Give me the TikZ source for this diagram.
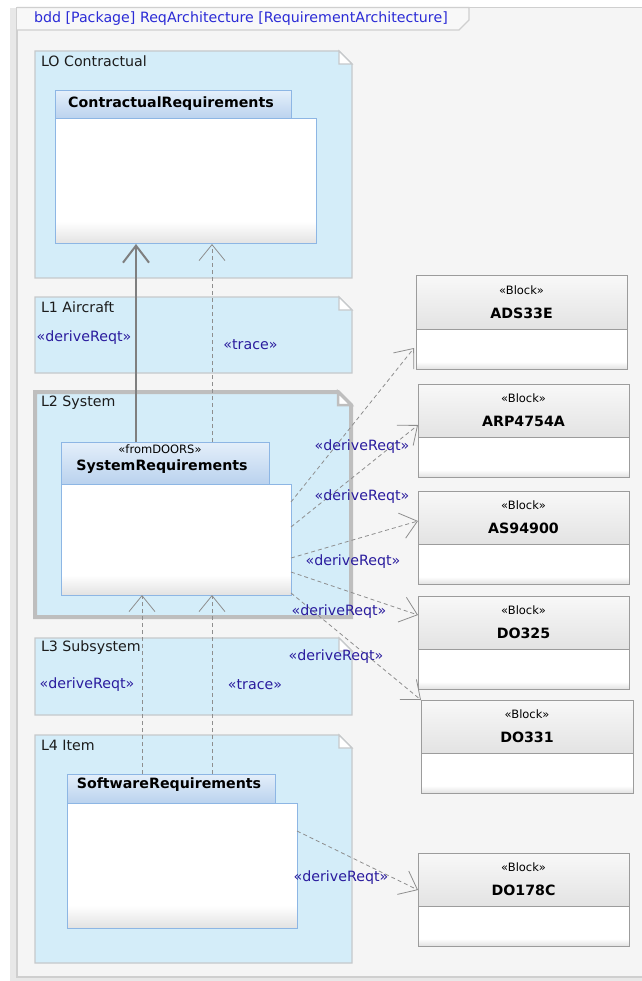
\documentclass[tikz,border=0pt]{standalone}
\usepackage{fontspec}
\setmainfont{DejaVu Sans}
\usetikzlibrary{arrows.meta,calc}

\definecolor{outerbg}{HTML}{FFFFFF}
\definecolor{shadowgray}{HTML}{E8E8E8}
\definecolor{framebg}{HTML}{F5F5F5}
\definecolor{tabbg}{HTML}{F8F8F8}
\definecolor{framecol}{HTML}{CFCFCF}
\definecolor{pkgfill}{HTML}{D4EDF9}
\definecolor{pkgline}{HTML}{C6C9CB}
\definecolor{sysline}{HTML}{BEBEBE}
\definecolor{clsline}{HTML}{8DB6E4}
\definecolor{clstop}{HTML}{E4EFFA}
\definecolor{clsbot}{HTML}{BAD2EE}
\definecolor{bodylow}{HTML}{E2E2E2}
\definecolor{blkline}{HTML}{9C9C9C}
\definecolor{blktop}{HTML}{F8F8F8}
\definecolor{blkbot}{HTML}{E3E3E3}
\definecolor{linkgray}{HTML}{8E8E8E}
\definecolor{solidgray}{HTML}{7F7F7F}
\definecolor{labelblue}{HTML}{2A1C9E}
\definecolor{titleblue}{HTML}{2B2BD6}
\definecolor{inktext}{HTML}{1C1C1C}

% white body fading to light gray along its lower edge
\pgfdeclareverticalshading{bodyshade}{100bp}{color(0bp)=(bodylow); color(25bp)=(bodylow); color(34bp)=(white); color(100bp)=(white)}

\tikzset{
  txt/.style={inner sep=0pt, outer sep=0pt, text=inktext, font=\fontsize{14.2}{17}\selectfont},
  pkgname/.style={txt, anchor=west},
  boldname/.style={txt, font=\fontsize{14.2}{17}\selectfont\bfseries, text=black},
  stereo/.style={txt, font=\fontsize{11.5}{13}\selectfont, text=black},
  linklabel/.style={txt, text=labelblue},
  pkgbox/.style={draw=pkgline, fill=pkgfill, line width=1.2pt, line join=miter},
  sysbox/.style={draw=sysline, fill=pkgfill, line width=4pt, line join=miter},
  fold/.style={draw=pkgline, fill=white, line width=1.2pt},
  sysfold/.style={draw=sysline, fill=white, line width=2.5pt},
  clshead/.style={draw=clsline, line width=1pt, top color=clstop, bottom color=clsbot,
    inner sep=0pt, outer sep=0pt, anchor=north west},
  clsbody/.style={draw=clsline, line width=1pt, shading=bodyshade,
    inner sep=0pt, outer sep=0pt, anchor=north west},
  blkhead/.style={draw=blkline, line width=1pt, top color=blktop, bottom color=blkbot,
    inner sep=0pt, outer sep=0pt, anchor=north west, minimum height=53pt},
  blkbody/.style={draw=blkline, line width=1pt, shading=bodyshade,
    inner sep=0pt, outer sep=0pt, anchor=north west, minimum height=40pt},
  deplink/.style={draw=linkgray, line width=0.8pt, dash pattern=on 4pt off 3pt,
    -{Straight Barb[length=16pt, width=26pt, line width=0.8pt]}},
  solidlink/.style={draw=solidgray, line width=2pt,
    -{Straight Barb[length=17pt, width=26pt, line width=2pt]}},
}

% a SysML block: header with stereotype and name, plus an empty compartment
\newcommand\sysblock[5]{%
  \node[blkhead, minimum width=#4] (#1H) at (#2,#3) {};
  \node[blkbody, minimum width=#4] (#1B) at (#1H.south west) {};
  \node[stereo] (#1S) at ($(#1H.north)+(0,14)$) {«Block»};
  \node[boldname] (#1N) at ($(#1H.north)+(0,37)$) {#5};
}

\begin{document}
\begin{tikzpicture}[x=1pt, y=-1pt]
\useasboundingbox (0,0) rectangle (641,981);
\fill[outerbg] (0,0) rectangle (641,981);

% diagram frame with its name tab
\fill[shadowgray] (10,8) rectangle (645,981);
\draw[framecol, fill=framebg, line width=1.2pt] (17,7.5) rectangle (648,977);
\draw[framecol, fill=tabbg, line width=1.2pt] (17,7.5) -- (469,7.5) -- (469,20) -- (459,30) -- (17,30);
\node[txt, anchor=west, text=titleblue] (title) at (34,18.5) {bdd [Package] ReqArchitecture [RequirementArchitecture]};

% packages (one per requirement level)
\draw[pkgbox] (35,51) -- (339,51) -- (352,64) -- (352,278) -- (35,278) -- cycle;
\draw[fold] (339,51) -- (339,64) -- (352,64) -- cycle;
\node[pkgname] (l0) at (41,61) {LO Contractual};

\draw[pkgbox] (35,297) -- (339,297) -- (352,310) -- (352,373) -- (35,373) -- cycle;
\draw[fold] (339,297) -- (339,310) -- (352,310) -- cycle;
\node[pkgname] (l1) at (41,307) {L1 Aircraft};

\draw[sysbox] (35,392) -- (338,392) -- (351,405) -- (351,617) -- (35,617) -- cycle;
\draw[sysfold] (338,392) -- (338,405) -- (351,405) -- cycle;
\node[pkgname] (l2) at (41,403) {L2 System};

\draw[pkgbox] (35,638) -- (339,638) -- (352,651) -- (352,715) -- (35,715) -- cycle;
\draw[fold] (339,638) -- (339,651) -- (352,651) -- cycle;
\node[pkgname] (l3) at (41,648) {L3 Subsystem};

\draw[pkgbox] (35,735) -- (339,735) -- (352,748) -- (352,963) -- (35,963) -- cycle;
\draw[fold] (339,735) -- (339,748) -- (352,748) -- cycle;
\node[pkgname] (l4) at (41,745) {L4 Item};

% requirement packages
\node[clshead, minimum width=236pt, minimum height=28pt] (crH) at (55,91) {};
\node[clsbody, minimum width=261pt, minimum height=125pt] (crB) at (55,119) {};
\node[boldname] (crN) at ($(crH.center)+(-2,-1)$) {ContractualRequirements};

\node[clshead, minimum width=208pt, minimum height=42pt] (srH) at (61,442) {};
\node[clsbody, minimum width=230pt, minimum height=111pt] (srB) at (61,484) {};
\node[stereo] (srS) at (160,449) {«fromDOORS»};
\node[boldname] (srN) at (162,467) {SystemRequirements};

\node[clshead, minimum width=208pt, minimum height=29pt] (swH) at (67,774) {};
\node[clsbody, minimum width=230pt, minimum height=125pt] (swB) at (67,803) {};
\node[boldname] (swN) at (169,785) {SoftwareRequirements};

% standards as blocks
\sysblock{ads}{416}{276}{211pt}{ADS33E}
\sysblock{arp}{418}{384}{211pt}{ARP4754A}
\sysblock{as}{418}{491}{211pt}{AS94900}
\sysblock{dts}{418}{596}{211pt}{DO325}
\sysblock{dto}{421}{700}{212pt}{DO331}
\sysblock{dhc}{418}{853}{211pt}{DO178C}

% level-to-level relations
\draw[solidlink] ($(srH.north west)+(75,0)$) -- ($(crB.south west)+(81,0)$);
\draw[deplink] ($(srH.north west)+(151,0)$) -- ($(crB.south west)+(157,0)$);
\draw[deplink] ($(swH.north west)+(75,0)$) -- ($(srB.south west)+(81,0)$);
\draw[deplink] ($(swH.north west)+(145,0)$) -- ($(srB.south west)+(151,0)$);

% system requirements derived from standards
\draw[deplink] ($(srB.north east)+(0,18)$) -- ($(adsB.north west)+(-2,19)$);
\draw[deplink] ($(srB.north east)+(0,43)$) -- ($(arpH.south west)+(0,-12)$);
\draw[deplink] ($(srB.north east)+(0,74)$) -- ($(asH.south west)+(0,-23)$);
\draw[deplink] ($(srB.north east)+(0,88)$) -- ($(dtsH.north west)+(0,19)$);
\draw[deplink] ($(srB.north east)+(0,109)$) -- (dtoH.north west);
\draw[deplink] ($(swB.north east)+(0,28)$) -- ($(dhcH.south west)+(0,-16)$);

% relation labels
\node[linklabel] (d1) at (84,338) {«deriveReqt»};
\node[linklabel] (t1) at (250.5,345) {«trace»};
\node[linklabel] (d2) at (362,447) {«deriveReqt»};
\node[linklabel] (d3) at (362,497) {«deriveReqt»};
\node[linklabel] (d4) at (353,562) {«deriveReqt»};
\node[linklabel] (d5) at (339,612) {«deriveReqt»};
\node[linklabel] (d6) at (336,657) {«deriveReqt»};
\node[linklabel] (d7) at (87,685) {«deriveReqt»};
\node[linklabel] (t2) at (255,685) {«trace»};
\node[linklabel] (d8) at (341,878) {«deriveReqt»};
\end{tikzpicture}
\end{document}
